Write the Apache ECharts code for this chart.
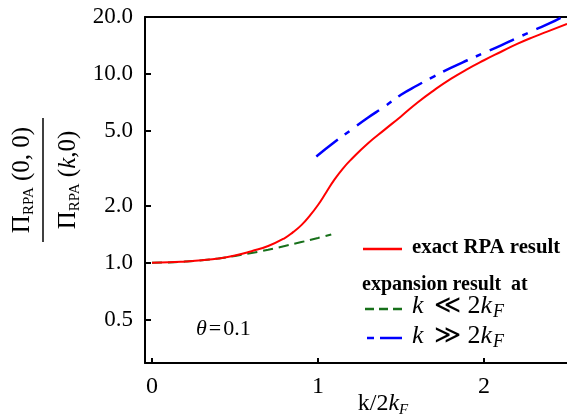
<!DOCTYPE html>
<html><head><meta charset="utf-8">
<script src="https://cdn.jsdelivr.net/npm/echarts@6/dist/echarts.min.js"></script>
<style>html,body{margin:0;padding:0;background:#fff}#c{width:567px;height:415px}</style>
</head><body><div id="c"></div>
<script>
// Exact RPA result
const exactX = [0,0.1,0.2,0.3,0.4,0.5,0.6,0.7,0.8,0.85,0.9,0.95,1.0,1.05,1.1,1.15,1.2,1.3,1.4,1.5,1.6,1.7,1.8,1.9,2.0,2.1,2.2,2.3,2.4,2.5];
const exactY = [1.0,1.004,1.015,1.03,1.052,1.09,1.15,1.225,1.35,1.45,1.58,1.77,2.02,2.36,2.76,3.15,3.52,4.28,5.05,5.95,7.05,8.2,9.4,10.6,11.8,13.05,14.4,15.7,17.0,18.4];
// Expansion k << 2kF
const lowX = [0,0.1,0.2,0.3,0.4,0.5,0.6,0.7,0.8,0.9,1.0,1.08];
const lowY = [1.0,1.003,1.013,1.03,1.053,1.085,1.125,1.17,1.225,1.285,1.35,1.41];
// Expansion k >> 2kF
const highX = [0.99,1.1,1.2,1.3,1.4,1.5,1.6,1.7,1.8,1.9,2.0,2.1,2.2,2.3,2.4,2.47];
const highY = [3.65,4.35,5.05,5.85,6.7,7.75,8.7,9.7,10.75,11.8,12.9,14.1,15.5,17.0,18.6,20.0];
// Ticks
const yTicks = [0.5,1,2,5,10,20];
const xTicks = [0,1,2];

const pairs = (xs, ys) => xs.map((x, i) => [x, ys[i]]);
const serif = 'Liberation Serif';
const mathRich = {
  i: {fontFamily: serif, fontStyle: 'italic', fontSize: 26, lineHeight: 30},
  n: {fontFamily: serif, fontSize: 26, lineHeight: 30},
  r: {fontFamily: serif, fontSize: 26, lineHeight: 30, padding: [0, 7, 0, 10]},
  s: {fontFamily: serif, fontStyle: 'italic', fontSize: 18, lineHeight: 15, verticalAlign: 'bottom', padding: [0, 0, 0, 1]}
};

const chart = echarts.init(document.getElementById('c'), null, {renderer: 'canvas'});
chart.setOption({
  animation: false,
  backgroundColor: '#fff',
  grid: {left: 145, top: 17, right: 0, bottom: 52, containLabel: false},
  xAxis: [{
    type: 'value', min: -0.042, max: 2.5,
    axisLine: {show: true, onZero: false, lineStyle: {color: '#000', width: 2}},
    axisTick: {show: true, inside: true, length: 5, lineStyle: {color: '#000', width: 2}, customValues: xTicks},
    axisLabel: {show: true, customValues: xTicks, margin: 12, color: '#000', fontFamily: serif, fontSize: 24, formatter: v => String(v)},
    splitLine: {show: false}
  }, {
    type: 'value', position: 'top', min: -0.042, max: 2.5,
    axisLine: {show: true, onZero: false, lineStyle: {color: '#000', width: 2}},
    axisTick: {show: false}, axisLabel: {show: false}, splitLine: {show: false}
  }],
  yAxis: {
    type: 'log', min: 0.294, max: 20,
    axisLine: {show: true, onZero: false, lineStyle: {color: '#000', width: 2}},
    axisTick: {show: true, inside: true, length: 6, lineStyle: {color: '#000', width: 2}, customValues: yTicks},
    axisLabel: {show: true, customValues: yTicks, margin: 12, color: '#000', fontFamily: serif, fontSize: 23, formatter: v => Number(v).toFixed(1)},
    splitLine: {show: false}, minorTick: {show: false}
  },
  series: [
    {type: 'line', name: 'low', data: pairs(lowX, lowY), showSymbol: false, smooth: 0.5,
     lineStyle: {color: '#17701a', width: 2, type: [10, 6]}, z: 2},
    {type: 'line', name: 'high', data: pairs(highX, highY), showSymbol: false, smooth: 0.5,
     lineStyle: {color: '#0000ff', width: 2.5, type: [27, 9, 6, 9]}, z: 2},
    {type: 'line', name: 'exact', data: pairs(exactX, exactY), showSymbol: false, smooth: 0.5,
     lineStyle: {color: '#ff0000', width: 2}, z: 3}
  ],
  graphic: [
    // y axis title (fraction), rotated
    {type: 'group', x: 43, y: 180, rotation: Math.PI / 2, children: [
      {type: 'text', x: 0, y: -21, style: {
        text: '{p|Π}{s|RPA}{n| (0, 0)}', align: 'center', verticalAlign: 'middle', fill: '#000',
        rich: {p: {fontFamily: serif, fontSize: 25, lineHeight: 30}, s: {fontFamily: serif, fontSize: 15, lineHeight: 14, verticalAlign: 'bottom'}, n: {fontFamily: serif, fontSize: 25, lineHeight: 30}}
      }},
      {type: 'line', shape: {x1: -62, y1: 0, x2: 62, y2: 0}, style: {stroke: '#000', lineWidth: 1.5}},
      {type: 'text', x: 0, y: 25, style: {
        text: '{p|Π}{s|RPA}{n| (}{i|k}{n|,0)}', align: 'center', verticalAlign: 'middle', fill: '#000',
        rich: {p: {fontFamily: serif, fontSize: 25, lineHeight: 30}, s: {fontFamily: serif, fontSize: 15, lineHeight: 14, verticalAlign: 'bottom'}, n: {fontFamily: serif, fontSize: 25, lineHeight: 30}, i: {fontFamily: serif, fontStyle: 'italic', fontSize: 25, lineHeight: 30}}
      }}
    ]},
    // x axis title
    {type: 'text', x: 383, y: 404, style: {
      text: '{n|k/2}{i|k}{s|F}', align: 'center', verticalAlign: 'middle', fill: '#000',
      rich: {n: {fontFamily: serif, fontSize: 24, lineHeight: 28}, i: {fontFamily: serif, fontStyle: 'italic', fontSize: 24, lineHeight: 28}, s: {fontFamily: serif, fontStyle: 'italic', fontSize: 15, lineHeight: 14, verticalAlign: 'bottom'}}
    }},
    // theta
    {type: 'text', x: 196, y: 329, style: {
      text: '{i|θ}{e|=}{n|0.1}', align: 'left', verticalAlign: 'middle', fill: '#000',
      rich: {i: {fontFamily: serif, fontStyle: 'italic', fontSize: 22}, e: {fontFamily: serif, fontSize: 22, padding: [0, 2, 0, 2]}, n: {fontFamily: serif, fontSize: 22}}
    }},
    // legend
    {type: 'line', shape: {x1: 363, y1: 249, x2: 402, y2: 249}, style: {stroke: '#ff0000', lineWidth: 2.5}},
    {type: 'text', x: 412, y: 248, style: {text: 'exact RPA result', fontFamily: serif, fontWeight: 'bold', fontSize: 20.8, fill: '#000', align: 'left', verticalAlign: 'middle'}},
    {type: 'text', x: 362, y: 285, style: {text: 'expansion result  at', fontFamily: serif, fontWeight: 'bold', fontSize: 20, fill: '#000', align: 'left', verticalAlign: 'middle'}},
    {type: 'line', shape: {x1: 365, y1: 309, x2: 402, y2: 309}, style: {stroke: '#17701a', lineWidth: 2.5, lineDash: [9, 5]}},
    {type: 'text', x: 412, y: 306, style: {
      text: '{i|k}{r|≪}{n|2}{i|k}{s|F}', align: 'left', verticalAlign: 'middle', fill: '#000', rich: mathRich
    }},
    {type: 'line', shape: {x1: 367, y1: 338, x2: 374, y2: 338}, style: {stroke: '#0000ff', lineWidth: 2.5}},
    {type: 'line', shape: {x1: 380, y1: 338, x2: 402, y2: 338}, style: {stroke: '#0000ff', lineWidth: 2.5}},
    {type: 'text', x: 412, y: 336, style: {
      text: '{i|k}{r|≫}{n|2}{i|k}{s|F}', align: 'left', verticalAlign: 'middle', fill: '#000', rich: mathRich
    }}
  ]
});
</script>
</body></html>
